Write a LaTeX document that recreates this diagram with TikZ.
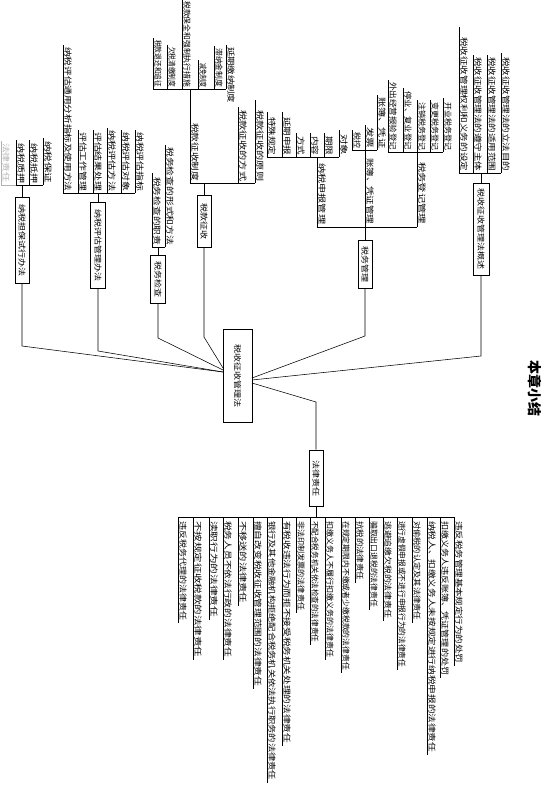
\documentclass[tikz,border=0pt]{standalone}
\usepackage{fontspec}
\usepackage{graphicx}
\newfontfamily\cjk{Noto Sans CJK SC}
\newdimen\TLen
\tikzset{
 ln/.style={line width=0.55pt},
 lbl/.style={rotate=-90,inner sep=0pt,font=\cjk},
 boxn/.style={draw,line width=0.6pt,rotate=-90,inner sep=0pt,font=\cjk\fontsize{9}{9}\selectfont},
}
\newcommand\Txt[6][black]{\TLen=\dimexpr #5pt-#4pt\relax
 \node[lbl,text=#1,anchor=south west] (#2) at (#3+1.3,#4) {\resizebox{\TLen}{6.6pt}{#6}};}
\newcommand\It[8][black]{\draw[ln,draw=#1] (#3,#4) -- (#3,#5); \Txt[#1]{#2}{#3}{#6}{#7}{#8}}
\newcommand\Sq[1]{\scalebox{1}[0.85]{#1}}
\begin{document}
\begin{tikzpicture}[x=1pt,y=-1pt]
\useasboundingbox (0,0) rectangle (546,793);
% central node
\node[boxn,minimum width=93pt,minimum height=29pt] (M) at (237.5,375.5) {\Sq{税收征收管理法}};
\coordinate (mL1) at (223,372);
\coordinate (mL2) at (223,370);
\coordinate (mL3) at (223,368);
\coordinate (mR1) at (252,378);
\coordinate (mR2) at (252,380);
\coordinate (mR3) at (252,383);
% title
\node[lbl,font=\cjk\bfseries\fontsize{14}{14}\selectfont] (T) at (535,388) {本章小结};
% ---- A: 税收征收管理法概述
\It{a1}{501}{173}{53}{57}{171}{税收征收管理法的立法目的}
\It{a2}{487}{173}{55}{57}{171}{税收征收管理法的适用范围}
\It{a3}{473}{173}{55}{57}{171}{税收征收管理法的遵守主体}
\It{a4}{459}{173}{27}{37}{171}{税收征收管理权利和义务的设定}
\draw[ln] (459,173) -- (501,173);
\node[boxn,minimum width=92pt,minimum height=16pt] (A) at (481,229) {\Sq{税收征收管理法概述}};
\draw[ln] (481,173) -- (A.west);
% ---- B: 税务管理
\It{b1}{417}{227}{152}{162}{224}{税务登记管理}
\draw[ln] (388,152) -- (443,152);
\It{b11}{443}{152}{98}{102}{150}{开业税务登记}
\It{b12}{430}{152}{100}{102}{150}{变更税务登记}
\It{b13}{417}{152}{100}{102}{150}{注销税务登记}
\It{b14}{403}{152}{88}{91}{150}{停业、复业登记}
\It{b15}{388}{152}{80}{82}{150}{外出经营报验登记}
\It{b2}{365}{227}{150}{158}{224}{账簿、凭证管理}
\draw[ln] (352,150) -- (377,150);
\It{b21}{352}{150}{130}{132}{148}{税控}
\It{b22}{365}{150}{125}{127}{148}{发票}
\It{b23}{377}{150}{95}{97}{148}{账簿、凭证}
\It{b3}{317}{227}{157}{163}{224}{纳税申报管理}
\draw[ln] (267,157) -- (339,157);
\It{b31}{339}{157}{130}{134}{155}{对象}
\It{b32}{324}{157}{133}{136}{155}{期限}
\It{b33}{310}{157}{133}{136}{155}{内容}
\It{b34}{296}{157}{133}{136}{155}{方式}
\It{b35}{282}{157}{112}{117}{155}{延期申报}
\It{b36}{267}{157}{112}{117}{155}{特殊规定}
\draw[ln] (317,227) -- (417,227);
\node[boxn,minimum width=48pt,minimum height=14pt] (B) at (365,264) {\Sq{税务管理}};
\draw[ln] (365,227) -- (B.west);
% ---- C: 税款征收
\It{c1}{190}{183}{89}{123}{181}{税款征收制度}
\draw[ln] (153,89) -- (226,89);
\It{c11}{226}{89}{45}{47}{103}{延期缴纳制度}
\It{c12}{214}{89}{46}{48}{87}{滞纳金制度}
\It{c13}{198}{89}{60}{63}{87}{减免制度}
\It{c14}{182}{89}{0}{1}{87}{税款保全和强制执行措施}
\It{c15}{167}{89}{45}{47}{87}{欠税清缴制度}
\It{c16}{153}{89}{38}{40}{87}{税款退还和追征}
\It{c2}{238}{183}{107}{110}{181}{税款征收的方式}
\It{c3}{255}{183}{100}{110}{181}{税款征收的原则}
\draw[ln] (190,183) -- (255,183);
\node[boxn,minimum width=52pt,minimum height=14pt] (C) at (204,221) {\Sq{税款征收}};
\draw[ln] (204,183) -- (C.west);
% ---- D: 税务检查
\It{d1}{152}{247}{173}{177}{245}{税务检查的职责}
\It{d2}{165}{247}{145}{147}{245}{税务检查的形式和方法}
\draw[ln] (152,247) -- (165,247);
\node[boxn,minimum width=48pt,minimum height=15pt] (D) at (158,279) {\Sq{税务检查}};
\draw[ln] (158,247) -- (D.west);
% ---- E: 纳税评估管理办法
\It{e1}{63}{193}{45}{47}{191}{纳税评估通用分析指标及使用方法}
\It{e2}{78}{193}{130}{132}{191}{评估工作管理}
\It{e3}{93}{193}{130}{132}{191}{评估结果处理}
\It{e4}{107}{193}{128}{130}{191}{纳税评估方法}
\It{e5}{121}{193}{130}{132}{191}{纳税评估对象}
\It{e6}{135}{193}{130}{132}{191}{纳税评估指标}
\draw[ln] (63,193) -- (135,193);
\node[boxn,minimum width=86pt,minimum height=15pt] (E) at (98,245) {\Sq{纳税评估管理办法}};
\draw[ln] (98,193) -- (E.west);
% ---- F: 纳税担保试行办法
\It[gray!60]{f1}{1}{185}{141}{143}{182}{法律责任}
\It{f2}{16}{185}{140}{143}{183}{纳税质押}
\It{f3}{29}{185}{140}{143}{183}{纳税抵押}
\It{f4}{43}{185}{138}{141}{183}{纳税保证}
\draw[ln,gray!60] (1,185) -- (16,185);
\draw[ln] (16,185) -- (43,185);
\node[boxn,minimum width=86pt,minimum height=14pt] (F) at (22,240) {\Sq{纳税担保试行办法}};
\draw[ln] (22,185) -- (F.west);
% ---- G: 法律责任
\node[boxn,minimum width=56pt,minimum height=14pt] (G) at (316,478) {\Sq{法律责任}};
\draw[ln] (G.east) -- (316,517);
\draw[ln] (178,517) -- (454,517);
\It{g1}{454}{517}{666}{521}{663}{违反税务管理基本规定行为的处罚}
\It{g2}{440}{517}{678}{521}{675}{扣缴义务人违反账簿、凭证管理的处罚}
\It{g3}{427}{517}{755}{521}{752}{纳税人、扣缴义务人未按规定进行纳税申报的法律责任}
\It{g4}{412}{517}{623}{521}{620}{对偷税的认定及其法律责任}
\It{g5}{397}{517}{670}{521}{667}{进行虚假申报或不进行申报行为的法律责任}
\It{g6}{383}{517}{621}{521}{618}{逃避追缴欠税的法律责任}
\It{g7}{369}{517}{610}{521}{607}{骗取出口退税的法律责任}
\It{g8}{355}{517}{583}{521}{580}{抗税的法律责任}
\It{g9}{341}{517}{673}{521}{670}{在规定期限内不缴或者少缴税款的法律责任}
\It{g10}{325}{517}{660}{521}{657}{扣缴义务人不履行扣缴义务的法律责任}
\It{g11}{310}{517}{645}{521}{642}{不配合税务机关依法检查的法律责任}
\It{g12}{296}{517}{613}{521}{610}{非法印制发票的法律责任}
\It{g13}{282}{517}{746}{521}{743}{有税收违法行为而拒不接受税务机关处理的法律责任}
\It{g14}{267}{517}{783}{521}{780}{银行及其他金融机构拒绝配合税务机关依法执行职务的法律责任}
\It{g15}{253}{517}{689}{521}{686}{擅自改变税收征收管理范围的法律责任}
\It{g16}{238}{517}{606}{521}{603}{不移送的法律责任}
\It{g17}{223}{517}{660}{521}{657}{税务人员不依法行政的法律责任}
\It{g18}{209}{517}{620}{521}{617}{渎职行为的法律责任}
\It{g19}{193}{517}{660}{521}{657}{不按规定征收税款的法律责任}
\It{g20}{178}{517}{623}{521}{620}{违反税务代理的法律责任}
% ---- links to centre
\draw[ln] (F.east) -- (22,346) -- (mL1);
\draw[ln] (E.east) -- (98,351) -- (mL1);
\draw[ln] (D.east) -- (158,338) -- (mL2);
\draw[ln] (C.east) -- (204,337) -- (mL3);
\draw[ln] (B.east) -- (365,336) -- (mR1);
\draw[ln] (A.east) -- (481,356) -- (mR2);
\draw[ln] (mR3) -- (316,402) -- (G.west);
\end{tikzpicture}
\end{document}
